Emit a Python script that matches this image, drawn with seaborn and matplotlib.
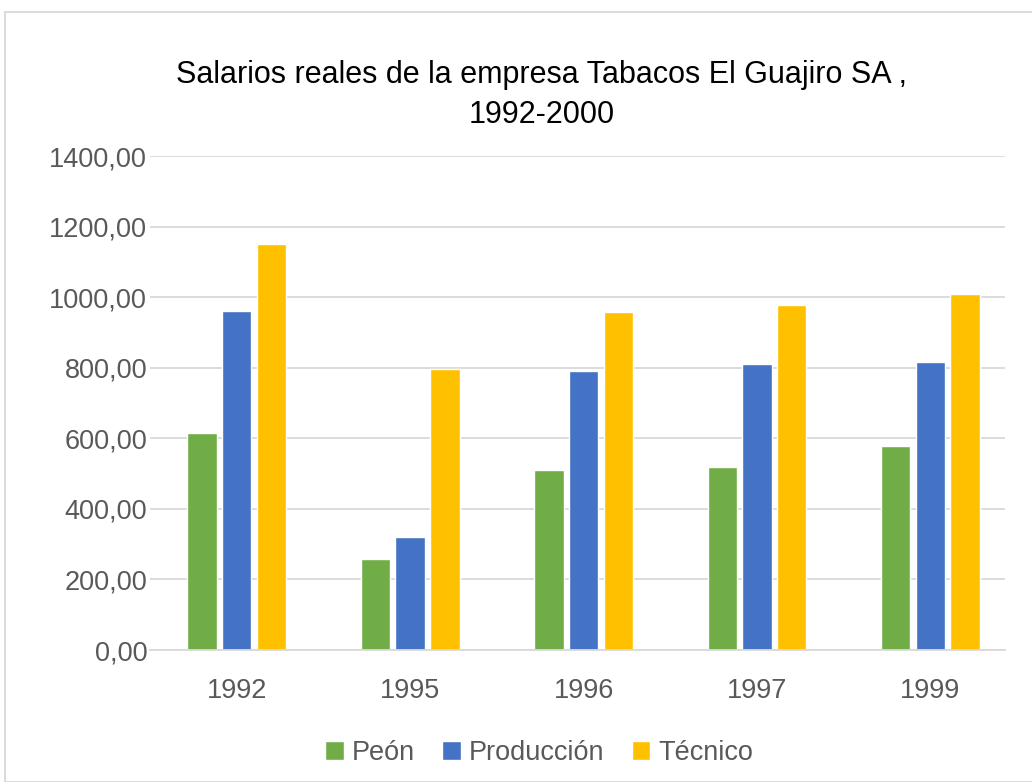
import matplotlib
matplotlib.use("Agg")
import matplotlib.pyplot as plt
from matplotlib.patches import Rectangle
from matplotlib.ticker import FuncFormatter
import pandas as pd
import seaborn as sns

# data
years = ["1992", "1995", "1996", "1997", "1999"]
peon = [614, 258, 511, 519, 577]
produccion = [960, 321, 791, 811, 817]
tecnico = [1150, 795, 959, 977, 1008]
series_names = ["Peón", "Producción", "Técnico"]
colors = ["#70AD47", "#4472C4", "#FFC000"]

df = pd.DataFrame({"year": years, "Peón": peon, "Producción": produccion, "Técnico": tecnico})
long_df = df.melt(id_vars="year", var_name="serie", value_name="salario")

sns.set_style("white")
plt.rcParams["font.family"] = ["Liberation Sans Narrow", "Liberation Sans", "DejaVu Sans"]

fig = plt.figure(figsize=(10.32, 7.82), dpi=100)
ax = fig.add_axes([150 / 1032, 1 - 650 / 782, 855 / 1032, 494 / 782])

sns.barplot(data=long_df, x="year", y="salario", hue="serie", hue_order=series_names,
            palette=colors, width=0.6, gap=0.15, saturation=1, ax=ax)

ax.set_xlim(-0.5, 4.43)
ax.set_ylim(0, 1400)
ax.set_yticks(range(0, 1401, 200))
ax.yaxis.set_major_formatter(FuncFormatter(lambda v, p: f"{v:.2f}".replace(".", ",")))
ax.yaxis.grid(True, color="#d9d9d9", linewidth=1.3)
ax.set_axisbelow(True)
for s in ["top", "right", "left"]:
    ax.spines[s].set_visible(False)
ax.spines["bottom"].set_color("#d9d9d9")
ax.spines["bottom"].set_linewidth(1.3)
ax.tick_params(axis="both", length=0, labelsize=19.5, labelcolor="#595959")
ax.tick_params(axis="y", pad=2)
ax.tick_params(axis="x", pad=20)
ax.set_xlabel("")
ax.set_ylabel("")

ax.legend(loc="upper center", bbox_to_anchor=(0.455, -0.133), ncol=3, frameon=False,
          fontsize=19.5, handlelength=0.7, handleheight=0.7, handletextpad=0.3,
          columnspacing=1.0, labelcolor="#595959")

fig.text(0.525, 1 - 95 / 782, "Salarios reales de la empresa Tabacos El Guajiro SA ,\n1992-2000",
         ha="center", va="center", fontsize=22, color="black", linespacing=1.45)

# outer chart border
fig.patches.append(Rectangle((5 / 1032, 0), 1.0, 1 - 12 / 782, transform=fig.transFigure,
                             fill=False, edgecolor="#d9d9d9", linewidth=1.3))

fig.savefig("out.png", dpi=100)
